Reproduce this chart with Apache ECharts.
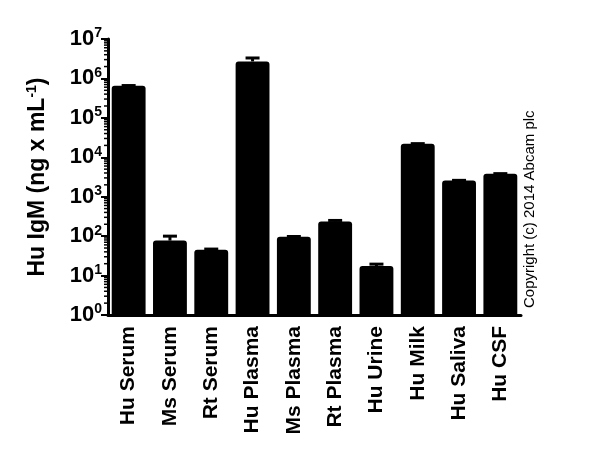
<!DOCTYPE html>
<html>
<head>
<meta charset="utf-8">
<title>Hu IgM</title>
<script src="https://cdn.jsdelivr.net/npm/echarts@6/dist/echarts.min.js"></script>
<style>
  html, body { margin: 0; padding: 0; background: #fff; }
  #main { width: 600px; height: 449px; }
</style>
</head>
<body>
<div id="main"></div>
<script>
// sample types on the x axis
var categories = ['Hu Serum', 'Ms Serum', 'Rt Serum', 'Hu Plasma', 'Ms Plasma',
  'Rt Plasma', 'Hu Urine', 'Hu Milk', 'Hu Saliva', 'Hu CSF'];
// mean IgM, ng/mL
var means = [650000, 77, 45, 2700000, 97, 235, 17.5, 22000, 2570, 3800];
// top of error bar
var upper = [660000, 100, 47, 3300000, 98, 250, 19.5, 22200, 2600, 3850];
// log minor tick positions 2..9 x 10^n
var minorTicks = [];
for (var d = 0; d < 7; d++) {
  for (var k = 2; k < 10; k++) minorTicks.push(k * Math.pow(10, d));
}

var font = 'Arial, "Liberation Sans", sans-serif';
var chart = echarts.init(document.getElementById('main'));

var option = {
  animation: false,
  grid: { left: 108, right: 79, top: 39, bottom: 134 },
  xAxis: {
    type: 'category',
    data: categories,
    axisLine: { lineStyle: { color: '#000', width: 3 } },
    axisTick: { alignWithLabel: true, length: 7, lineStyle: { color: '#000', width: 2 } },
    axisLabel: {
      rotate: 90, color: '#000', fontFamily: font, fontWeight: 'bold',
      fontSize: 21, margin: 11
    }
  },
  yAxis: {
    type: 'log',
    min: 1, max: 10000000,
    logBase: 10,
    name: 'Hu IgM (ng x mL{s|-1})',
    nameLocation: 'middle',
    nameRotate: 90,
    nameGap: 58,
    nameTextStyle: {
      color: '#000', fontFamily: font, fontWeight: 'bold', fontSize: 23,
      rich: { s: { fontSize: 14, fontWeight: 'bold', fontFamily: font, color: '#000', padding: [0, 0, 11, 0] } }
    },
    axisLine: { show: true, lineStyle: { color: '#000', width: 3 } },
    axisTick: { show: true, length: 7, lineStyle: { color: '#000', width: 2 } },
    splitLine: { show: false },
    axisLabel: {
      color: '#000', margin: 6,
      formatter: function (v) {
        return '10{s|' + Math.round(Math.log10(v)) + '}';
      },
      rich: {
        s: { fontSize: 14, fontWeight: 'bold', fontFamily: font, color: '#000', padding: [0, 0, 11, 0] }
      },
      fontFamily: font, fontWeight: 'bold', fontSize: 22
    }
  },
  series: [
    {
      type: 'bar',
      data: means,
      barWidth: '82%',
      itemStyle: { color: '#000', borderRadius: [3, 3, 0, 0] },
      z: 2
    },
    {
      type: 'custom',
      data: upper.map(function (u, i) { return [i, means[i], u]; }),
      renderItem: function (params, api) {
        var top = api.coord([api.value(0), api.value(2)]);
        var mid = api.coord([api.value(0), api.value(1)]);
        var half = 7;
        return {
          type: 'group',
          children: [
            { type: 'line', shape: { x1: top[0], y1: top[1], x2: mid[0], y2: mid[1] }, style: { stroke: '#000', lineWidth: 3 } },
            { type: 'line', shape: { x1: top[0] - half, y1: top[1], x2: top[0] + half, y2: top[1] }, style: { stroke: '#000', lineWidth: 3 } }
          ]
        };
      },
      z: 3
    },
    {
      // minor log ticks on the y axis
      type: 'custom',
      data: minorTicks.map(function (v) { return [0, v]; }),
      clip: false,
      renderItem: function (params, api) {
        var p = api.coord([0, api.value(1)]);
        var x0 = params.coordSys.x;
        return {
          type: 'line',
          shape: { x1: x0 - 4, y1: p[1], x2: x0, y2: p[1] },
          style: { stroke: '#000', lineWidth: 1.5 }
        };
      },
      z: 4
    }
  ],
  graphic: [
    {
      type: 'text',
      x: 530, y: 308,
      rotation: Math.PI / 2,
      style: {
        text: 'Copyright (c) 2014 Abcam plc',
        fill: '#000', font: '15px ' + font,
        textAlign: 'left', textVerticalAlign: 'middle'
      }
    }
  ]
};
chart.setOption(option);
</script>
</body>
</html>
